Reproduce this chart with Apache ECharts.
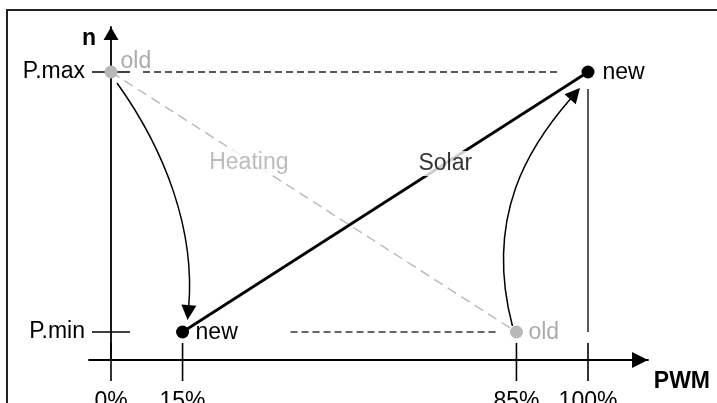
<!DOCTYPE html>
<html><head><meta charset="utf-8">
<script src="https://cdn.jsdelivr.net/npm/echarts@6/dist/echarts.min.js"></script>
<style>html,body{margin:0;padding:0;background:#fff}#chart{width:717px;height:403px}</style>
</head><body><div id="chart"></div>
<script>
// ---------------- data ----------------
const xTickValues = [0, 15, 85, 100];
const xTickLabels = ['0%', '15%', '85%', '100%'];
const yTickValues = [0, 1];
const yTickLabels = ['P.min', 'P.max'];
const xAxisName = 'PWM';
const yAxisName = 'n';
const oldPoints = [[0, 1], [85, 0]];
const newPoints = [[15, 0], [100, 1]];
const oldLabel = 'old';
const newLabel = 'new';
const heatingLine = [[0, 1], [85, 0]];
const heatingName = 'Heating';
const solarLine = [[15, 0], [100, 1]];
const solarName = 'Solar';
const transitions = [[0, 1, 15, 0], [85, 0, 100, 1]];      // old -> new
const guideLines = [[0, 1, 100, 1], [15, 0, 85, 0], [100, 0, 100, 1]];

// ---------------- layout / style ----------------
const FONT = "'Liberation Sans', Arial, Helvetica, sans-serif";
const FS = 23;
const GREY = '#b8b8b8';
const TEXT_GREY = '#ababab';
const GRID = {left: 89, top: 27, width: 559, height: 333};
const X0PX = 111, X100PX = 588;          // pixel of 0% and 100%
const YMINPX = 332, YMAXPX = 72;         // pixel of P.min and P.max
const xScale = (X100PX - X0PX) / 100;
const X_MIN = -(X0PX - GRID.left) / xScale;
const X_MAX = (GRID.left + GRID.width - X0PX) / xScale;
const yScale = (YMINPX - YMAXPX);
const Y_MIN = -((GRID.top + GRID.height) - YMINPX) / yScale;
const Y_MAX = (YMINPX - GRID.top) / yScale;

const guideStyles = [
  {trim: [32, 28], dash: [7, 4], width: 1.3, color: '#222'},
  {trim: [108, 20], dash: [7, 4], width: 1.3, color: '#333'},
  {trim: [0, 17], dash: null, width: 1.3, color: '#000'}
];
const curveStyles = [
  {start: [6, 11], end: [5, -12], c1: [48, 67], c2: [8, -90]},
  {start: [-4, -6], end: [-8, 16], c1: [-29, -111], c2: [-50, 57]}
];
const oldLabelStyles = [{distance: 3, offset: [0, -10]}, {distance: 5.5, offset: [0, 1]}];
const newLabelStyles = [{distance: 6.5, offset: [0, 1]}, {distance: 8, offset: [0, 1]}];

function lerp(line, t) {
  return [line[0][0] + (line[1][0] - line[0][0]) * t, line[0][1] + (line[1][1] - line[0][1]) * t];
}

const chart = echarts.init(document.getElementById('chart'), null, {renderer: 'canvas'});
const option = {
  animation: false,
  backgroundColor: '#fff',
  textStyle: {fontFamily: FONT},
  graphic: [{
    type: 'rect', x: 7, y: 10, silent: true, z: 100,
    shape: {x: 0, y: 0, width: 800, height: 500},
    style: {fill: null, stroke: '#222', lineWidth: 2}
  }],
  grid: Object.assign({containLabel: false, outerBoundsMode: 'none'}, GRID),
  xAxis: {
    type: 'value', min: X_MIN, max: X_MAX,
    name: '{p|' + xAxisName + '}', nameLocation: 'end', nameGap: 62, nameMoveOverlap: false,
    nameTextStyle: {align: 'right', verticalAlign: 'middle',
      rich: {p: {fontFamily: FONT, fontSize: FS, fontWeight: 'bold', color: '#000', padding: [44, 0, 0, 0]}}},
    axisLine: {show: true, onZero: false, symbol: ['none', 'triangle'], symbolSize: [16, 16],
      symbolOffset: [0, -8], lineStyle: {color: '#000', width: 1.8}},
    axisTick: {show: false}, splitLine: {show: false},
    axisLabel: {customValues: xTickValues, formatter: v => xTickLabels[xTickValues.indexOf(v)],
      margin: 30, fontFamily: FONT, fontSize: FS, color: '#000'}
  },
  yAxis: {
    type: 'value', min: Y_MIN, max: Y_MAX,
    name: yAxisName, nameLocation: 'end', nameGap: -12, nameMoveOverlap: false,
    nameTextStyle: {fontFamily: FONT, fontSize: FS, fontWeight: 'bold', color: '#000',
      align: 'right', verticalAlign: 'middle', padding: [0, 15, 0, 0]},
    axisLine: {show: true, onZero: true, symbol: ['none', 'triangle'], symbolSize: [15, 13],
      symbolOffset: [0, -6.5], lineStyle: {color: '#000', width: 1.8}},
    axisTick: {show: false}, splitLine: {show: false},
    axisLabel: {customValues: yTickValues, formatter: v => yTickLabels[yTickValues.indexOf(v)],
      margin: 4, fontFamily: FONT, fontSize: FS, color: '#000'}
  },
  series: [
    { // x ticks
      type: 'custom', z: 3, silent: true,
      data: xTickValues.map(v => [v, 0]),
      renderItem: function (params, api) {
        const x = api.coord([api.value(0), 0])[0];
        const yb = params.coordSys.y + params.coordSys.height;
        return {type: 'line', shape: {x1: x, y1: yb - 17, x2: x, y2: yb + 21},
          style: {stroke: '#000', lineWidth: 1.6}};
      }
    },
    { // y ticks
      type: 'custom', z: 3, silent: true,
      data: yTickValues.map(v => [0, v]),
      renderItem: function (params, api) {
        const p = api.coord([0, api.value(1)]);
        return {type: 'line', shape: {x1: p[0] - 19, y1: p[1], x2: p[0] + 19, y2: p[1]},
          style: {stroke: '#000', lineWidth: 1.6}};
      }
    },
    { // guide lines
      type: 'custom', z: 2, silent: true,
      data: guideLines,
      renderItem: function (params, api) {
        const s = guideStyles[params.dataIndex];
        const a = api.coord([api.value(0), api.value(1)]);
        const b = api.coord([api.value(2), api.value(3)]);
        const L = Math.hypot(b[0] - a[0], b[1] - a[1]);
        const ux = (b[0] - a[0]) / L, uy = (b[1] - a[1]) / L;
        return {type: 'line',
          shape: {x1: a[0] + ux * s.trim[0], y1: a[1] + uy * s.trim[0], x2: b[0] - ux * s.trim[1], y2: b[1] - uy * s.trim[1]},
          style: {stroke: s.color, lineWidth: s.width, lineDash: s.dash}};
      }
    },
    {
      name: heatingName, type: 'line', z: 2, silent: true, symbol: 'none',
      data: heatingLine,
      lineStyle: {color: GREY, width: 1.4, type: [10, 6]}
    },
    {
      name: solarName, type: 'line', z: 2, silent: true, symbol: 'none',
      data: solarLine,
      lineStyle: {color: '#000', width: 2.7}
    },
    { // line labels
      type: 'scatter', z: 4, silent: true, symbolSize: 1,
      itemStyle: {color: 'rgba(0,0,0,0)'},
      data: [
        {value: lerp(heatingLine, 0.34), label: {formatter: heatingName, color: TEXT_GREY, offset: [0, 2]}},
        {value: lerp(solarLine, 0.648), label: {formatter: solarName, color: '#000', offset: [0, 0]}}
      ],
      label: {show: true, position: 'inside', fontFamily: FONT, fontSize: FS,
        backgroundColor: '#fff', padding: [1, 3]}
    },
    { // curved transition arrows
      type: 'custom', z: 4, silent: true,
      data: transitions,
      renderItem: function (params, api) {
        const s = curveStyles[params.dataIndex];
        const a = api.coord([api.value(0), api.value(1)]);
        const b = api.coord([api.value(2), api.value(3)]);
        const p0 = [a[0] + s.start[0], a[1] + s.start[1]];
        const p3 = [b[0] + s.end[0], b[1] + s.end[1]];
        const p1 = [p0[0] + s.c1[0], p0[1] + s.c1[1]];
        const p2 = [p3[0] + s.c2[0], p3[1] + s.c2[1]];
        const dx = p3[0] - p2[0], dy = p3[1] - p2[1];
        const L = Math.hypot(dx, dy);
        const ux = dx / L, uy = dy / L;
        const hl = 15, hw = 7.5;
        const base = [p3[0] - ux * hl, p3[1] - uy * hl];
        return {type: 'group', children: [
          {type: 'bezierCurve',
            shape: {x1: p0[0], y1: p0[1], x2: base[0] + ux * 3, y2: base[1] + uy * 3,
              cpx1: p1[0], cpy1: p1[1], cpx2: p2[0], cpy2: p2[1]},
            style: {stroke: '#000', lineWidth: 1.5, fill: null}},
          {type: 'polygon',
            shape: {points: [p3, [base[0] - uy * hw, base[1] + ux * hw], [base[0] + uy * hw, base[1] - ux * hw]]},
            style: {fill: '#000'}}
        ]};
      }
    },
    {
      name: oldLabel, type: 'scatter', z: 6, silent: true, symbolSize: 13,
      itemStyle: {color: GREY, opacity: 1},
      data: oldPoints.map((p, i) => ({value: p, label: oldLabelStyles[i]})),
      label: {show: true, formatter: oldLabel, position: 'right', fontFamily: FONT, fontSize: FS, color: TEXT_GREY}
    },
    {
      name: newLabel, type: 'scatter', z: 6, silent: true, symbolSize: 13,
      itemStyle: {color: '#000', opacity: 1},
      data: newPoints.map((p, i) => ({value: p, label: newLabelStyles[i]})),
      label: {show: true, formatter: newLabel, position: 'right', fontFamily: FONT, fontSize: FS, color: '#000'}
    }
  ]
};
chart.setOption(option);
</script></body></html>
